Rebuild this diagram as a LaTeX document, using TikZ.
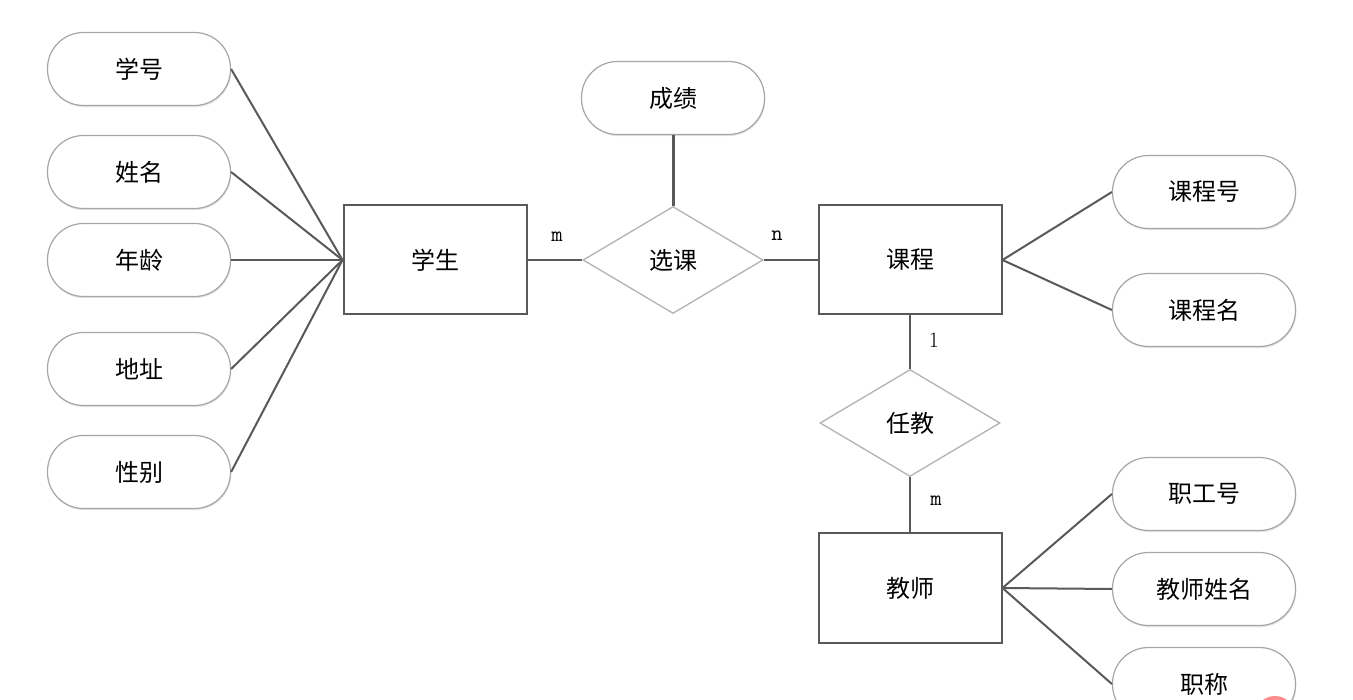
\documentclass[tikz,border=0pt]{standalone}
\usepackage{fontspec}
\newfontfamily\cjk{Noto Sans CJK SC}
\usetikzlibrary{shapes.geometric,shadows}
\tikzset{
  attr/.style={draw=black!35, line width=1.2pt, fill=white, rectangle, rounded corners=36pt,
    minimum width=183pt, minimum height=73pt, inner sep=0pt,
    font=\cjk\fontsize{24}{28}\selectfont,
    drop shadow={shadow xshift=0.8pt, shadow yshift=-1.6pt, fill=black!20}},
  ent/.style={draw=black!65, line width=2pt, fill=white, rectangle,
    minimum width=183pt, minimum height=109pt, inner sep=0pt,
    font=\cjk\fontsize{24}{28}\selectfont},
  rel/.style={draw=black!30, line width=1.3pt, fill=white, diamond,
    minimum width=180pt, minimum height=107pt, inner sep=0pt,
    font=\cjk\fontsize{24}{28}\selectfont},
  conn/.style={draw=black!65, line width=2pt},
  card/.style={font=\ttfamily\fontsize{22}{24}\selectfont, text=black},
}
\begin{document}
\begin{tikzpicture}[x=1pt,y=-1pt]
\useasboundingbox (0,0) rectangle (1353,700);
\begin{scope}
\clip (0,0) rectangle (1353,700);
% student attributes
\node[attr] (xh) at (139,69) {学号};
\node[attr] (xm) at (139,172) {姓名};
\node[attr] (nl) at (139,260) {年龄};
\node[attr] (dz) at (139,369) {地址};
\node[attr] (xb) at (139,472) {性别};
% entities
\node[ent] (stu) at (435,260) {学生};
\node[ent] (crs) at (910,260) {课程};
\node[ent] (tch) at (910,588) {教师};
% relations
\node[rel] (xk) at (673,260) {选课};
\node[rel] (rj) at (910,423) {任教};
\node[attr] (cj) at (673,98) {成绩};
% course attributes
\node[attr] (kch) at (1204,192) {课程号};
\node[attr] (kcm) at (1204,310) {课程名};
% teacher attributes
\node[attr] (zgh) at (1204,494) {职工号};
\node[attr] (jsxm) at (1204,589) {教师姓名};
\node[attr] (zc) at (1204,684) {职称};
% pink mark
\fill[red!45!white] (1275,716) circle (20pt);
\end{scope}
% connectors
\foreach \a in {xh,xm,nl,dz,xb} \draw[conn] (\a.east) -- (stu.west);
\draw[conn] (stu.east) -- (xk.west);
\draw[conn] (xk.east) -- (crs.west);
\draw[conn, line width=3pt] (cj.south) -- (xk.north);
\draw[conn] (crs.east) -- (kch.west);
\draw[conn] (crs.east) -- (kcm.west);
\draw[conn] (crs.south) -- (rj.north);
\draw[conn] (rj.south) -- (tch.north);
\draw[conn] (tch.east) -- (zgh.west);
\draw[conn] (tch.east) -- (jsxm.west);
\draw[conn] (tch.east) -- (zc.west);
% cardinalities
\node[card] (lm) at (557,237) {m};
\node[card] (ln) at (777,236) {n};
\node[card, font=\rmfamily\fontsize{22}{24}\selectfont] (l1) at (934,340) {1};
\node[card] (lm2) at (936,501) {m};
\end{tikzpicture}
\end{document}
